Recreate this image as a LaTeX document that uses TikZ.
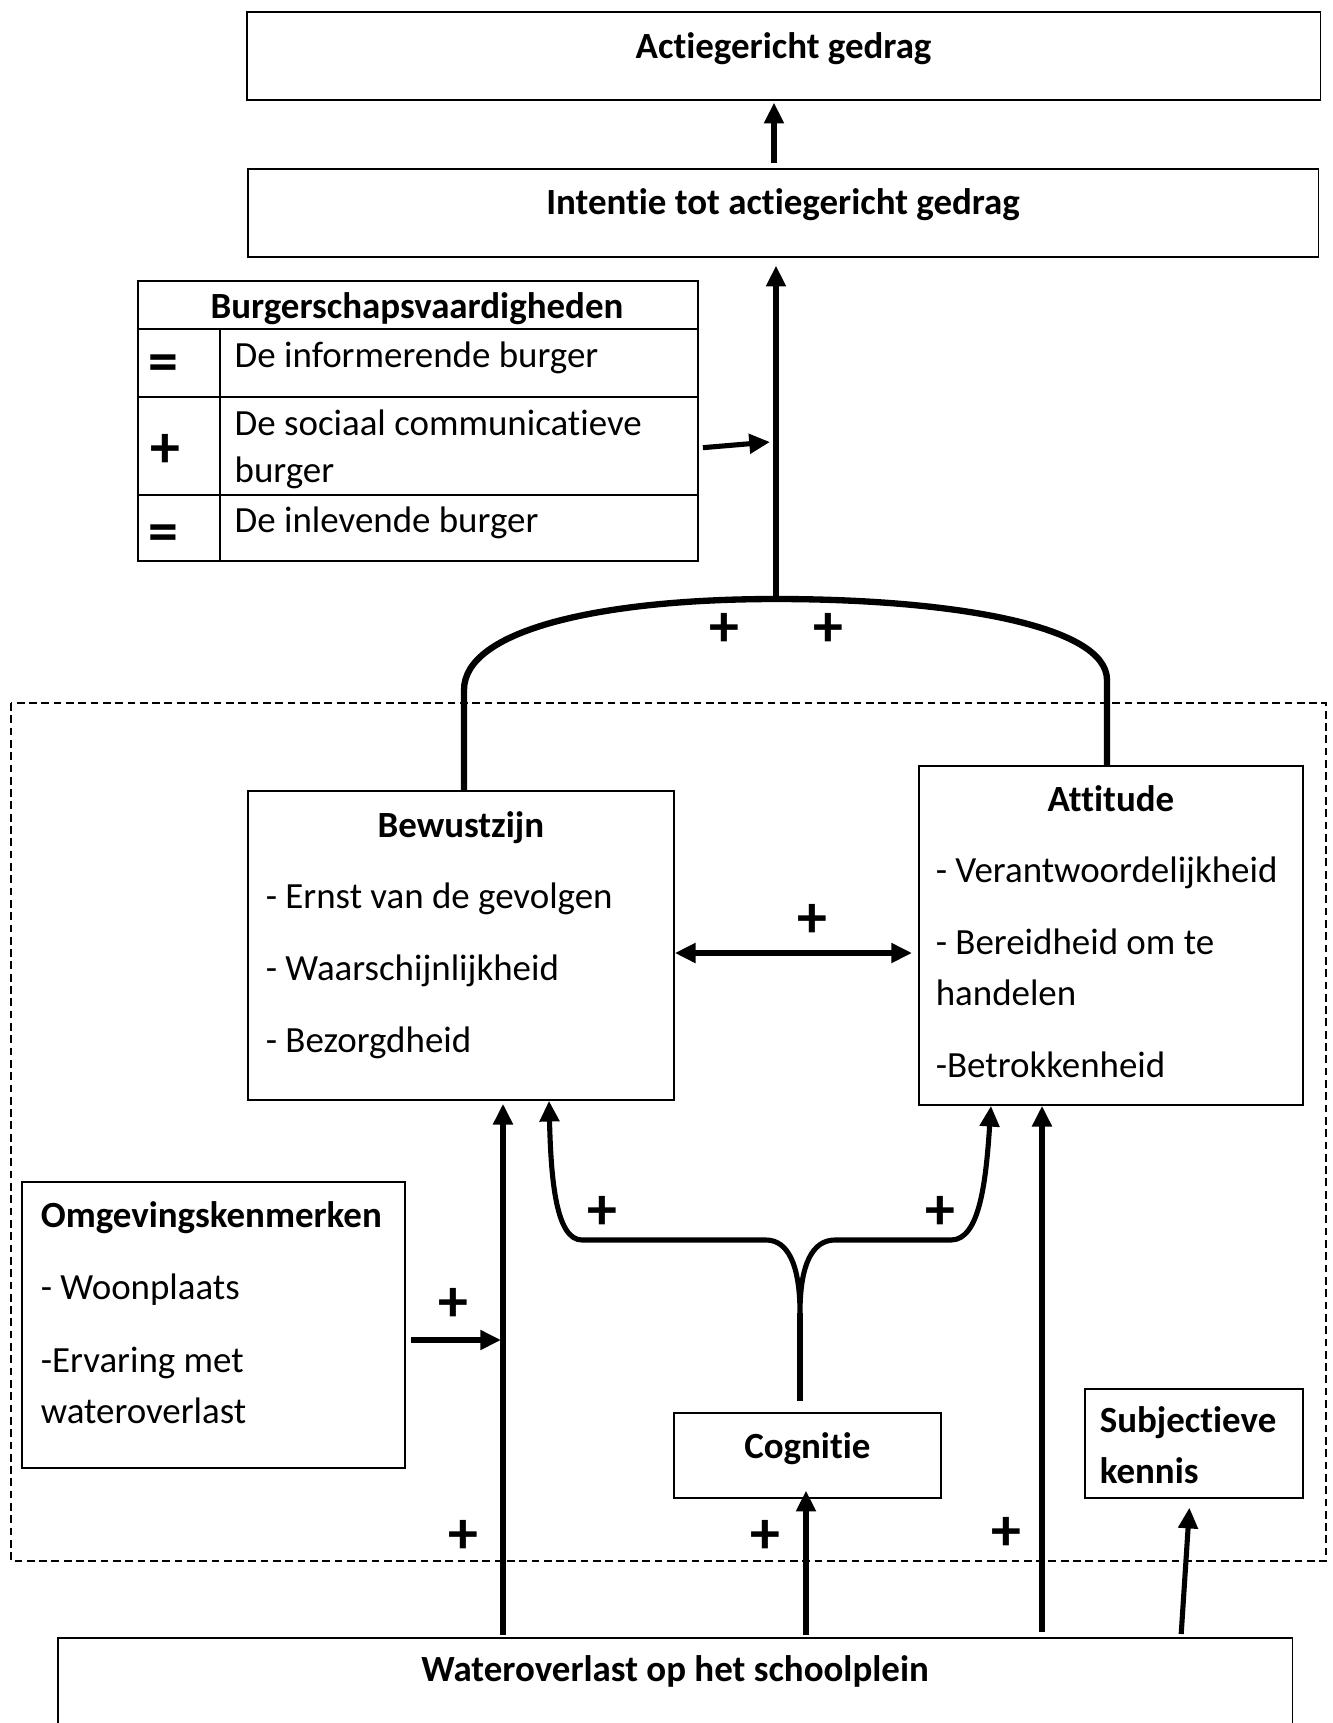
\documentclass[tikz,border=0pt]{standalone}
\usepackage{fontspec}
\setmainfont{Carlito}[Ligatures=NoCommon]
\usetikzlibrary{arrows.meta}
\newcommand\boxfont{\fontsize{10.5pt}{14.5pt}\selectfont\hyphenpenalty10000\relax}

\begin{document}
\begin{tikzpicture}
		[x=0.01cm, y=-0.01cm,
		>={Triangle[length=5.9pt,width=5.4pt]},
		every node/.style={font=\fontsize{10.5pt}{14.5pt}\selectfont},
		box/.style={draw, line width=0.45pt, anchor=north west, inner ysep=0pt, align=flush left, font=\boxfont},
		cbox/.style={draw, line width=0.45pt, anchor=north west, inner ysep=0pt,
			font=\fontsize{10.5pt}{14.5pt}\selectfont\bfseries},
		cell/.style={anchor=base west, inner sep=0pt},
		sym/.style={inner sep=0pt, font=\fontsize{17pt}{19pt}\selectfont\bfseries},
		plus/.style={inner sep=0pt, font=\fontsize{17pt}{19pt}\selectfont\bfseries},
		rule/.style={line width=0.45pt},
		conn/.style={line width=1.45pt},
		arc/.style={line width=1.8pt, line join=round},
		frame/.style={line width=0.6pt, dash pattern=on 2.2pt off 1.3pt}]
	\useasboundingbox (0,0) rectangle (1333,1723);
	\draw[frame] (11,703) rectangle (1326,1561);
	\node[cbox, minimum width=10.73cm, text height=0.47cm, text depth=0.41cm] (actie) at (246,11) {Actiegericht gedrag};
	\node[cbox, minimum width=10.70cm, text height=0.46cm, text depth=0.42cm] (intentie) at (247,168) {Intentie tot actiegericht gedrag};
	\node[draw, rule, anchor=north west, minimum width=5.60cm, minimum height=2.80cm, inner sep=0pt] (burger) at (137,280) {};
	\draw[rule] (burger.west |- 0,329) -- (burger.east |- 0,329);
	\draw[rule] (burger.west |- 0,397) -- (burger.east |- 0,397);
	\draw[rule] (burger.west |- 0,495) -- (burger.east |- 0,495);
	\draw[rule] (220,329) -- (burger.south -| 220,0);
	\node[anchor=base, inner sep=0pt, font=\fontsize{10.5pt}{14.5pt}\selectfont\bfseries] (bhead) at (417,318) {Burgerschapsvaardigheden};
	\node[sym] (s1) at (163,368) {=};
	\node[sym] (s2) at (165,451) {+};
	\node[sym] (s3) at (163,538) {=};
	\node[cell] (r1) at (234,367) {De informerende burger};
	\node[cell] (r2) at (234,435) {De sociaal communicatieve};
	\node[cell] (r2b) at (234,482) {burger};
	\node[cell] (r3) at (234,532) {De inlevende burger};
	\node[box, inner xsep=0.18cm, text width=3.90cm, text height=0.47cm, text depth=2.62cm] (bewust) at (247,790)
		{\makebox[\linewidth]{\bfseries Bewustzijn}\\[5.5pt]
		-~Ernst van de gevolgen\\[6pt]
		-~Waarschijnlijkheid\\[6pt]
		-~Bezorgdheid};
	\node[box, inner xsep=0.17cm, text width=3.50cm, text height=0.46cm, text depth=2.93cm] (attitude) at (918,765)
		{\makebox[\linewidth]{\bfseries Attitude}\\[5.5pt]
		-~Verantwoordelijkheid\\[6pt]
		-~Bereidheid om te\\
		handelen\\[6pt]
		-Betrokkenheid};
	\node[box, inner xsep=0.19cm, text width=3.45cm, text height=0.46cm, text depth=2.40cm] (omg) at (21,1181)
		{\textbf{Omgevingskenmerken}\\[6pt]
		-~Woonplaats\\[6pt]
		-Ervaring met\\
		wateroverlast};
	\node[box, inner xsep=0.15cm, text width=1.88cm, text height=0.44cm, text depth=0.65cm] (subj) at (1084,1388)
		{\textbf{Subjectieve}\\
		\textbf{kennis}};
	\node[cbox, minimum width=2.67cm, text height=0.46cm, text depth=0.39cm] (cog) at (673,1412) {Cognitie};
	\node[cbox, minimum width=12.34cm, text height=0.44cm, text depth=1.0cm] (water) at (57,1637) {Wateroverlast op het schoolplein};
	\coordinate (top) at (776,599);
	\coordinate (bjoin) at (770,442);
	\coordinate (ojoin) at (501,1340);
	\coordinate (split) at (800,1313);
	\draw[conn, ->, shorten <=0.05cm, shorten >=0.02cm] (intentie.north -| 774,0) -- (actie.south -| 774,0);
	\draw[conn, ->, shorten >=0.08cm] (top) -- (intentie.south -| top);
	\draw[arc] (bewust.north -| 464,0) -- (464,690) .. controls (464,630) and (600,599) .. (top)
		.. controls (950,599) and (1107,625) .. (1107,680) -- (attitude.north -| 1107,0);
	\draw[conn, ->, shorten <=0.04cm] (burger.east |- 0,448) -- (bjoin);
	\draw[conn, <->, shorten >=0.06cm] (bewust.east |- 0,953) -- (attitude.west |- 0,953);
	\draw[conn, ->, shorten <=0.05cm] (omg.east |- ojoin) -- (ojoin);
	\draw[conn, ->, shorten <=0.02cm, shorten >=0.03cm] (water.north -| 503,0) -- (bewust.south -| 503,0);
	\draw[conn, ->, shorten <=0.02cm, shorten >=-0.08cm] (water.north -| 806,0) -- (cog.south -| 806,0);
	\draw[conn, ->, shorten <=0.05cm] (water.north -| 1042,0) -- (attitude.south -| 1042,0);
	\draw[conn, ->, shorten <=0.03cm, shorten >=0.09cm] (water.north -| 1181,0) -- (subj.south -| 1190,0);
	\draw[conn, shorten <=0.11cm] (cog.north -| split) -- (split);
	\draw[conn, <->, line join=round] (bewust.south -| 549,0) .. controls (551,1180) and (556,1240) .. (582,1240)
		-- (766,1240) .. controls (788,1240) and (800,1265) .. (split)
		.. controls (800,1265) and (812,1240) .. (835,1240)
		-- (951,1240) .. controls (980,1240) and (986,1180) .. (attitude.south -| 991,0);
	\node[plus] (p1) at (724,630) {+};
	\node[plus] (p2) at (828,630) {+};
	\node[plus] (p3) at (812,921) {+};
	\node[plus] (p4) at (602,1213) {+};
	\node[plus] (p5) at (940,1213) {+};
	\node[plus] (p6) at (453,1305) {+};
	\node[plus] (p7) at (463,1537) {+};
	\node[plus] (p8) at (765,1537) {+};
	\node[plus] (p9) at (1006,1534) {+};
\end{tikzpicture}
\end{document}
